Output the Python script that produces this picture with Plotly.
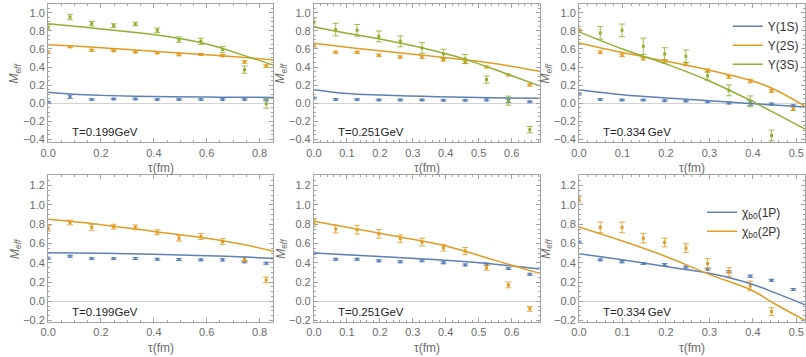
import plotly.graph_objects as go

# Euclidean time slices (fm) for the three temperatures
tau_199 = [0.0, 0.083, 0.165, 0.248, 0.330, 0.413, 0.495, 0.578, 0.660, 0.743, 0.825]
tau_251 = [0.0, 0.066, 0.131, 0.197, 0.262, 0.328, 0.393, 0.459, 0.524, 0.590, 0.655]
tau_334 = [0.0, 0.049, 0.099, 0.148, 0.197, 0.246, 0.296, 0.345, 0.394, 0.443, 0.493]

# Upsilon states, T = 0.199 GeV
ups1_199 = [0.01, 0.07, 0.04, 0.045, 0.045, 0.04, 0.04, 0.04, 0.04, 0.04, 0.035]
ups1_199_err = [0.008, 0.02, 0.008, 0.008, 0.008, 0.008, 0.008, 0.008, 0.008, 0.008, 0.01]
ups2_199 = [0.563, 0.626, 0.585, 0.581, 0.567, 0.556, 0.537, 0.54, 0.526, 0.456, 0.41]
ups2_199_err = [0.015, 0.012, 0.012, 0.01, 0.01, 0.01, 0.012, 0.01, 0.012, 0.015, 0.015]
ups3_199 = [0.84, 0.955, 0.88, 0.86, 0.878, 0.807, 0.704, 0.685, 0.593, 0.37, -0.007]
ups3_199_err = [0.03, 0.03, 0.025, 0.02, 0.02, 0.025, 0.03, 0.035, 0.035, 0.04, 0.05]

# Upsilon states, T = 0.251 GeV
ups1_251 = [0.055, 0.04, 0.04, 0.035, 0.035, 0.035, 0.03, 0.03, 0.035, 0.025, 0.015]
ups1_251_err = [0.008, 0.008, 0.008, 0.008, 0.008, 0.008, 0.008, 0.008, 0.01, 0.02, 0.008]
ups2_251 = [0.64, 0.563, 0.563, 0.53, 0.511, 0.511, 0.48, 0.452, 0.4, 0.311, 0.2]
ups2_251_err = [0.02, 0.012, 0.012, 0.012, 0.012, 0.015, 0.015, 0.015, 0.01, 0.01, 0.012]
ups3_251 = [0.896, 0.815, 0.807, 0.74, 0.685, 0.611, 0.548, 0.489, 0.26, 0.026, -0.296]
ups3_251_err = [0.05, 0.07, 0.065, 0.06, 0.06, 0.06, 0.05, 0.05, 0.04, 0.05, 0.035]

# Upsilon states, T = 0.334 GeV
ups1_334 = [0.1, 0.04, 0.033, 0.033, 0.026, 0.022, 0.015, 0.0, 0.0, -0.01, -0.03]
ups1_334_err = [0.01, 0.008, 0.008, 0.008, 0.008, 0.008, 0.008, 0.01, 0.03, 0.01, 0.01]
ups2_334 = [0.807, 0.563, 0.53, 0.493, 0.463, 0.433, 0.36, 0.289, 0.244, 0.133, -0.063]
ups2_334_err = [0.015, 0.015, 0.015, 0.015, 0.02, 0.02, 0.02, 0.015, 0.02, 0.015, 0.02]
ups3_334 = [None, 0.778, 0.807, 0.63, 0.544, 0.519, 0.304, 0.141, 0.019, -0.36, None]
ups3_334_err = [0, 0.07, 0.07, 0.09, 0.07, 0.07, 0.05, 0.06, 0.06, 0.06, 0]

# chi_b0 states
chi1_199 = [0.447, 0.467, 0.443, 0.443, 0.443, 0.436, 0.433, 0.43, 0.43, 0.41, 0.395]
chi2_199 = [0.757, 0.818, 0.767, 0.774, 0.767, 0.716, 0.655, 0.672, 0.62, 0.436, 0.222]
chi2_199_err = [0.03, 0.025, 0.03, 0.025, 0.025, 0.025, 0.03, 0.03, 0.03, 0.025, 0.03]
chi1_251 = [0.498, 0.436, 0.436, 0.42, 0.41, 0.42, 0.4, 0.378, 0.385, 0.34, 0.28]
chi2_251 = [0.818, 0.75, 0.743, 0.7, 0.648, 0.614, 0.556, 0.522, 0.348, 0.17, -0.078]
chi2_251_err = [0.04, 0.04, 0.045, 0.045, 0.04, 0.04, 0.035, 0.035, 0.025, 0.03, 0.025]
chi1_334 = [0.614, 0.43, 0.41, 0.392, 0.382, 0.355, 0.334, 0.307, 0.26, 0.218, 0.123]
chi2_334 = [1.06, 0.767, 0.767, 0.655, 0.61, 0.552, 0.392, 0.303, 0.16, -0.106, None]
chi2_334_err = [0.03, 0.055, 0.055, 0.05, 0.045, 0.045, 0.05, 0.045, 0.05, 0.04, 0]
chi1_err = [0.01, 0.01, 0.01, 0.01, 0.01, 0.01, 0.01, 0.01, 0.012, 0.01, 0.01]

# fitted curves
fit_tau_199 = [0.0, 0.1, 0.2, 0.4, 0.6, 0.77, 0.852]
fit_ups1_199 = [0.12, 0.097, 0.085, 0.072, 0.066, 0.063, 0.062]
fit_ups2_199 = [0.648, 0.633, 0.615, 0.575, 0.535, 0.5, 0.478]
fit_ups3_199 = [0.88, 0.853, 0.822, 0.76, 0.655, 0.5, 0.42]
fit_tau_251 = [0.0, 0.1, 0.2, 0.33, 0.46, 0.58, 0.685]
fit_ups1_251 = [0.148, 0.105, 0.088, 0.074, 0.064, 0.057, 0.052]
fit_ups2_251 = [0.663, 0.62, 0.58, 0.53, 0.48, 0.42, 0.352]
fit_ups3_251 = [0.844, 0.775, 0.71, 0.61, 0.485, 0.33, 0.19]
fit_tau_334 = [0.0, 0.1, 0.2, 0.3, 0.4, 0.45, 0.52]
fit_ups1_334 = [0.148, 0.093, 0.056, 0.026, -0.007, -0.022, -0.044]
fit_ups2_334 = [0.667, 0.56, 0.465, 0.365, 0.245, 0.15, -0.035]
fit_ups3_334 = [0.79, 0.6, 0.435, 0.245, 0.015, -0.11, -0.29]
fit_tau_chi_199 = [0.0, 0.2, 0.4, 0.6, 0.72, 0.852]
fit_chi1_199 = [0.505, 0.498, 0.488, 0.473, 0.462, 0.445]
fit_chi2_199 = [0.85, 0.795, 0.725, 0.655, 0.6, 0.52]
fit_tau_chi_251 = [0.0, 0.2, 0.4, 0.55, 0.685]
fit_chi1_251 = [0.5, 0.465, 0.425, 0.385, 0.335]
fit_chi2_251 = [0.83, 0.705, 0.573, 0.425, 0.29]
fit_tau_chi_334 = [0.0, 0.1, 0.2, 0.3, 0.4, 0.45, 0.52]
fit_chi1_334 = [0.494, 0.43, 0.36, 0.29, 0.175, 0.09, -0.035]
fit_chi2_334 = [0.772, 0.625, 0.465, 0.28, 0.11, -0.025, -0.198]

temps = ["T=0.199GeV", "T=0.251GeV", "T=0.334\u2009GeV"]
ups_names = ["\u03a5(1S)", "\u03a5(2S)", "\u03a5(3S)"]
chi_names = ["\u03c7<sub>b0</sub>(1P)", "\u03c7<sub>b0</sub>(2P)"]

BLUE, ORANGE, GREEN = "#5E81B5", "#E19C24", "#8FB032"
FRAME = "#a3a3a3"
LABEL = "#6b6b6b"
W, H = 806, 357

panels = [
    (tau_199, [(ups1_199, ups1_199_err), (ups2_199, ups2_199_err), (ups3_199, ups3_199_err)],
     fit_tau_199, [fit_ups1_199, fit_ups2_199, fit_ups3_199], ups_names, None),
    (tau_251, [(ups1_251, ups1_251_err), (ups2_251, ups2_251_err), (ups3_251, ups3_251_err)],
     fit_tau_251, [fit_ups1_251, fit_ups2_251, fit_ups3_251], ups_names, None),
    (tau_334, [(ups1_334, ups1_334_err), (ups2_334, ups2_334_err), (ups3_334, ups3_334_err)],
     fit_tau_334, [fit_ups1_334, fit_ups2_334, fit_ups3_334], ups_names, "legend"),
    (tau_199, [(chi1_199, chi1_err), (chi2_199, chi2_199_err)],
     fit_tau_chi_199, [fit_chi1_199, fit_chi2_199], chi_names, None),
    (tau_251, [(chi1_251, chi1_err), (chi2_251, chi2_251_err)],
     fit_tau_chi_251, [fit_chi1_251, fit_chi2_251], chi_names, None),
    (tau_334, [(chi1_334, chi1_err), (chi2_334, chi2_334_err)],
     fit_tau_chi_334, [fit_chi1_334, fit_chi2_334], chi_names, "legend2"),
]
colors = [BLUE, ORANGE, GREEN]
err_colors = ["rgba(94,129,181,0.85)", "rgba(225,156,36,0.85)", "rgba(143,176,50,0.85)"]

# frame positions in pixels
col_px = [(40.5, 268), (309, 537), (576.7, 805)]
row_px = [(4, 144), (177, 325.7)]
x_ranges = [[0, 0.852], [0, 0.685], [0, 0.52]]
x_dtick = [(0.2, 0.05), (0.1, 0.02), (0.1, 0.02)]
y_ranges = [[-0.437, 1.1], [-0.215, 1.31]]

fig = go.Figure()
layout = {}
annotations = []

for i, (tau, series, ftau, fits, names, leg) in enumerate(panels):
    r, c = divmod(i, 3)
    n = "" if i == 0 else str(i + 1)
    xa, ya = "x" + n, "y" + n
    for k, (vals, errs) in enumerate(series):
        fig.add_trace(go.Scatter(
            x=tau, y=vals, mode="markers", xaxis=xa, yaxis=ya, showlegend=False,
            marker=dict(symbol="square", size=3, color=colors[k]),
            error_y=dict(type="data", array=errs, visible=True, color=err_colors[k],
                         thickness=1, width=3)))
    for k, fv in enumerate(fits):
        fig.add_trace(go.Scatter(
            x=ftau, y=fv, mode="lines", xaxis=xa, yaxis=ya, name=names[k],
            line=dict(color=colors[k], width=1.5, shape="spline", smoothing=1.0),
            showlegend=leg is not None, legend=leg if leg else "legend"))

    x0, x1 = col_px[c]
    y0, y1 = row_px[r]
    common = dict(showline=True, linecolor=FRAME, linewidth=1, mirror="ticks",
                  ticks="inside", ticklen=4, tickcolor=FRAME, tickwidth=1,
                  tickfont=dict(size=11, color=LABEL, family="Liberation Sans"),
                  showgrid=False, tickformat=".1f")
    layout["xaxis" + n] = dict(common, domain=[x0 / W, x1 / W], anchor=ya, range=x_ranges[c],
                               tick0=0, dtick=x_dtick[c][0], zeroline=False,
                               minor=dict(dtick=x_dtick[c][1], ticks="inside", ticklen=2,
                                          tickcolor=FRAME, showgrid=False))
    layout["yaxis" + n] = dict(common, domain=[1 - y1 / H, 1 - y0 / H], anchor=xa,
                               range=y_ranges[r], tick0=0, dtick=0.2,
                               zeroline=True, zerolinecolor="#d2d2d2", zerolinewidth=1,
                               minor=dict(dtick=0.05, ticks="inside", ticklen=2,
                                          tickcolor=FRAME, showgrid=False))
    ph = y1 - y0
    annotations.append(dict(text=temps[c], xref=xa + " domain", yref=ya + " domain",
                            x=22 / (x1 - x0), y=10 / ph, xanchor="left", yanchor="middle",
                            showarrow=False, font=dict(size=11.5, color="#222222", family="Liberation Sans")))
    annotations.append(dict(text="\u03c4(fm)", xref=xa + " domain", yref=ya + " domain",
                            x=0.5, y=-26 / ph, xanchor="center", yanchor="middle",
                            showarrow=False, font=dict(size=12, color=LABEL, family="Liberation Sans")))
    annotations.append(dict(text="<i>M</i><sub><i>eff</i></sub>", xref=xa + " domain", yref=ya + " domain",
                            x=-33 / (x1 - x0), y=0.5, xanchor="center", yanchor="middle", textangle=-90,
                            showarrow=False, font=dict(size=12, color=LABEL, family="Liberation Sans")))

legend_style = dict(bgcolor="rgba(0,0,0,0)", borderwidth=0, xanchor="left", yanchor="top",
                    font=dict(size=12, color="#333333", family="Liberation Sans"),
                    itemwidth=30, tracegroupgap=0)
layout["legend"] = dict(legend_style, x=727 / W, y=1 - 12 / H)
layout["legend2"] = dict(legend_style, x=701 / W, y=1 - 200 / H)

fig.update_layout(**layout)
fig.update_layout(width=W, height=H, margin=dict(l=0, r=0, t=0, b=0),
                  plot_bgcolor="white", paper_bgcolor="white",
                  annotations=annotations)

fig.write_html("out.html", config={"displayModeBar": False},
               post_script="document.body.style.margin='0';document.body.style.overflow='hidden';")
